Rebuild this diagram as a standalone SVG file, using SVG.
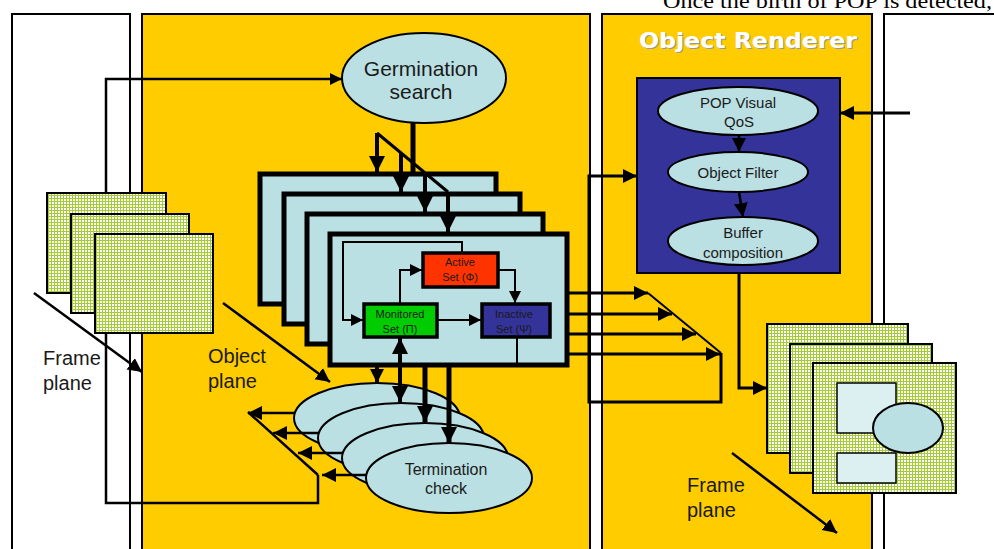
<svg xmlns="http://www.w3.org/2000/svg" width="994" height="549" viewBox="0 0 994 549">
<defs>
<pattern id="grid" width="3" height="3" patternUnits="userSpaceOnUse">
<rect width="3" height="3" fill="#fff"/>
<path d="M0 0.5H3M0.5 0V3" stroke="#A3CC33" stroke-width="1"/>
</pattern>
<marker id="aL" markerUnits="userSpaceOnUse" markerWidth="17" markerHeight="17" refX="16" refY="8" orient="auto"><path d="M0,0 L16,8 L0,16 z" fill="#000"/></marker>
<marker id="aM" markerUnits="userSpaceOnUse" markerWidth="15" markerHeight="15" refX="14" refY="7" orient="auto"><path d="M0,0 L14,7 L0,14 z" fill="#000"/></marker>
<marker id="aS" markerUnits="userSpaceOnUse" markerWidth="13" markerHeight="13" refX="12" refY="6" orient="auto"><path d="M0,0 L12,6 L0,12 z" fill="#000"/></marker>
<marker id="aLs" markerUnits="userSpaceOnUse" markerWidth="17" markerHeight="17" refX="16" refY="8" orient="auto-start-reverse"><path d="M0,0 L16,8 L0,16 z" fill="#000"/></marker>
</defs>
<style>
.panel{stroke:#000;stroke-width:2}
.frame{fill:url(#grid);stroke:#000;stroke-width:2}
.box{fill:#BBE0E3;stroke:#000;stroke-width:5}
.ell{fill:#BBE0E3;stroke:#000;stroke-width:2}
.set{stroke:#000;stroke-width:3.5}
.t{font-family:"Liberation Sans",Arial,sans-serif;fill:#1a1a1a;text-anchor:middle}
.c{stroke:#000;fill:none}
</style>

<text x="663" y="8" font-family="'Liberation Serif','Times New Roman',serif" font-size="22" fill="#000" textLength="329" lengthAdjust="spacingAndGlyphs">Once the birth of POP is detected,</text>

<g id="panel-frame-left"><rect class="panel" x="12" y="14" width="118" height="560" fill="#fff"/></g>
<g id="panel-object"><rect class="panel" x="142" y="14" width="448" height="560" fill="#FFCC00"/></g>
<g id="panel-renderer">
<rect class="panel" x="602" y="14" width="270" height="560" fill="#FFCC00"/>
<text x="640" y="49" font-family="'DejaVu Sans',Verdana,sans-serif" font-weight="bold" font-size="22" fill="#999" textLength="218" lengthAdjust="spacingAndGlyphs">Object Renderer</text>
<text x="639" y="48" font-family="'DejaVu Sans',Verdana,sans-serif" font-weight="bold" font-size="22" fill="#fff" textLength="218" lengthAdjust="spacingAndGlyphs">Object Renderer</text>
</g>
<g id="panel-frame-right"><rect class="panel" x="884" y="14" width="200" height="560" fill="#fff"/></g>

<g id="frames-left">
<rect class="frame" x="47" y="193" width="119" height="100"/>
<rect class="frame" x="71" y="214" width="118" height="99"/>
<rect class="frame" x="95" y="234" width="118" height="99"/>
</g>

<g id="germination">
<ellipse class="ell" cx="424" cy="78" rx="82" ry="45"/>
<text class="t" x="421" y="76" font-size="21">Germination</text>
<text class="t" x="421" y="99" font-size="21">search</text>
</g>

<g id="object-boxes">
<rect class="box" x="260" y="174" width="236" height="130"/>
<rect class="box" x="284" y="194" width="236" height="130"/>
<rect class="box" x="307" y="214" width="236" height="130"/>
<rect class="box" x="330" y="234" width="237" height="131"/>
</g>

<g id="active-set">
<rect class="set" x="423" y="253" width="75" height="34" fill="#FF3300"/>
<text class="t" x="460" y="266" font-size="11">Active</text>
<text class="t" x="460" y="281" font-size="11">Set (Φ)</text>
</g>
<g id="monitored-set">
<rect class="set" x="364" y="304" width="73" height="33" fill="#00CC00"/>
<text class="t" x="400" y="318" font-size="11">Monitored</text>
<text class="t" x="400" y="333" font-size="11">Set (Π)</text>
</g>
<g id="inactive-set">
<rect class="set" x="482" y="304" width="68" height="33" fill="#333399"/>
<text class="t" x="514" y="318" font-size="11" fill="#111">Inactive</text>
<text class="t" x="514" y="333" font-size="11" fill="#111">Set (Ψ)</text>
</g>

<g id="termination">
<ellipse class="ell" cx="377" cy="418" rx="83" ry="35"/>
<ellipse class="ell" cx="401" cy="438" rx="83" ry="35"/>
<ellipse class="ell" cx="425" cy="458" rx="83" ry="35"/>
<ellipse class="ell" cx="449" cy="478" rx="83" ry="35"/>
<text class="t" x="446" y="475" font-size="16">Termination</text>
<text class="t" x="446" y="494" font-size="16">check</text>
</g>

<g id="renderer-box">
<rect x="637" y="78" width="203" height="195" fill="#333399" stroke="#000" stroke-width="2"/>
</g>
<g id="pop-visual-qos">
<ellipse class="ell" cx="738" cy="111" rx="80" ry="24"/>
<text class="t" x="738" y="108" font-size="15">POP Visual</text>
<text class="t" x="739" y="127" font-size="15">QoS</text>
</g>
<g id="object-filter">
<ellipse class="ell" cx="738" cy="172" rx="70" ry="20"/>
<text class="t" x="738" y="178" font-size="15">Object Filter</text>
</g>
<g id="buffer-composition">
<ellipse class="ell" cx="743" cy="241" rx="75" ry="24"/>
<text class="t" x="743" y="238" font-size="15">Buffer</text>
<text class="t" x="743" y="258" font-size="15">composition</text>
</g>

<g id="frames-right">
<rect class="frame" x="767" y="324" width="141" height="129"/>
<rect class="frame" x="790" y="344" width="142" height="129"/>
<rect class="frame" x="813" y="363" width="143" height="130"/>
<rect x="837" y="383" width="59" height="50" fill="#DCEFF1" stroke="#000" stroke-width="1.5"/>
<rect x="837" y="453" width="59" height="30" fill="#DCEFF1" stroke="#000" stroke-width="1.5"/>
<ellipse cx="908" cy="428" rx="35" ry="25" fill="#BBE0E3" stroke="#000" stroke-width="2"/>
</g>

<g id="labels">
<text class="t" x="43" y="365" font-size="20" style="text-anchor:start" fill="#000">Frame</text>
<text class="t" x="43" y="390" font-size="20" style="text-anchor:start" fill="#000">plane</text>
<text class="t" x="208" y="363" font-size="20" style="text-anchor:start">Object</text>
<text class="t" x="208" y="388" font-size="20" style="text-anchor:start">plane</text>
<text class="t" x="687" y="492" font-size="20" style="text-anchor:start">Frame</text>
<text class="t" x="687" y="517" font-size="20" style="text-anchor:start">plane</text>
</g>

<g id="connectors">
<path class="c" stroke-width="2.5" d="M106,193 V79 H342" marker-end="url(#aS)"/>
<path class="c" stroke-width="2.5" d="M318,475 V503 H106 V333"/>
<path class="c" stroke-width="5" d="M413,123 V172"/>
<path class="c" stroke-width="3" d="M377,133 L448,192"/>
<path class="c" stroke-width="4" d="M377,133 V172" marker-end="url(#aL)"/>
<path class="c" stroke-width="4" d="M401,153 V192" marker-end="url(#aL)"/>
<path class="c" stroke-width="4" d="M425,173 V212" marker-end="url(#aL)"/>
<path class="c" stroke-width="4" d="M448,192 V232" marker-end="url(#aL)"/>
<path class="c" stroke-width="2" d="M462,253 V242 H343 V320 H363" marker-end="url(#aS)"/>
<path class="c" stroke-width="2" d="M400,304 V270 H422" marker-end="url(#aS)"/>
<path class="c" stroke-width="2" d="M498,270 H515 V303" marker-end="url(#aS)"/>
<path class="c" stroke-width="2" d="M437,320 H481" marker-end="url(#aS)"/>
<path class="c" stroke-width="2" d="M517,337 V366"/>
<path class="c" stroke-width="4" d="M377,366 V383" marker-end="url(#aM)"/>
<path class="c" stroke-width="4" d="M400,338 V402" marker-start="url(#aLs)" marker-end="url(#aL)"/>
<path class="c" stroke-width="5" d="M425,366 V422" marker-end="url(#aL)"/>
<path class="c" stroke-width="5" d="M449,366 V443" marker-end="url(#aL)"/>
<path class="c" stroke-width="2.5" d="M294,413 H248" marker-end="url(#aM)"/>
<path class="c" stroke-width="2.5" d="M318,433 H273" marker-end="url(#aM)"/>
<path class="c" stroke-width="2.5" d="M342,453 H298" marker-end="url(#aM)"/>
<path class="c" stroke-width="2.5" d="M366,475 H322" marker-end="url(#aM)"/>
<path class="c" stroke-width="2.5" d="M248,412 L318,475"/>
<path class="c" stroke-width="3" d="M568,293 H648" marker-end="url(#aM)"/>
<path class="c" stroke-width="3" d="M568,314 H672" marker-end="url(#aM)"/>
<path class="c" stroke-width="3" d="M568,334 H696" marker-end="url(#aM)"/>
<path class="c" stroke-width="3" d="M568,354 H720" marker-end="url(#aM)"/>
<path class="c" stroke-width="2" d="M648,293 L721,353"/>
<path class="c" stroke-width="3" d="M721,353 V402 H589 V176 H637" marker-end="url(#aM)"/>
<path class="c" stroke-width="2.5" d="M739,135 V152" marker-end="url(#aM)"/>
<path class="c" stroke-width="2.5" d="M739,192 L743,217" marker-end="url(#aM)"/>
<path class="c" stroke-width="3" d="M910,113 H840" marker-end="url(#aM)"/>
<path class="c" stroke-width="3" d="M739,273 V388 H767" marker-end="url(#aM)"/>
<path class="c" stroke-width="2.5" d="M34,293 L142,372" marker-end="url(#aM)"/>
<path class="c" stroke-width="2.5" d="M223,303 L330,382" marker-end="url(#aM)"/>
<path class="c" stroke-width="2.5" d="M732,453 L837,533" marker-end="url(#aM)"/>
</g>
</svg>
